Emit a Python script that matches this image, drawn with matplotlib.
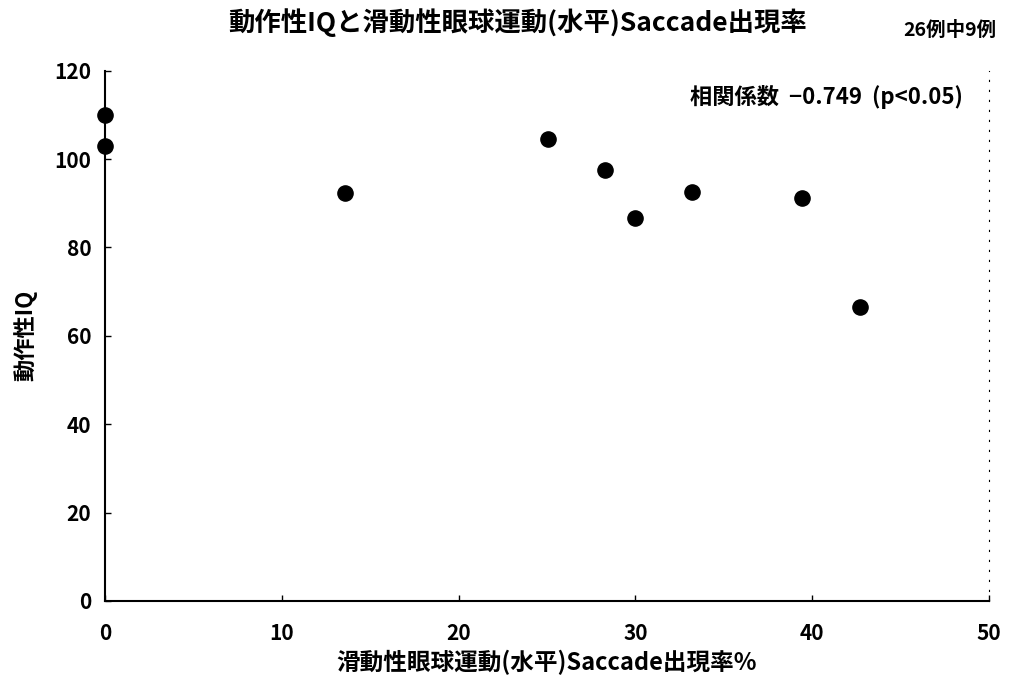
import matplotlib
matplotlib.use("Agg")
import matplotlib.pyplot as plt

plt.rcParams['font.family'] = ['Noto Sans CJK JP', 'DejaVu Sans']

saccade_rate = [0.0, 0.0, 13.55, 25.07, 28.27, 30.0, 33.2, 39.45, 42.7]
performance_iq = [110, 103, 92.4, 104.5, 97.5, 86.6, 92.6, 91.1, 66.6]
x_ticks = [0, 10, 20, 30, 40, 50]
y_ticks = [0, 20, 40, 60, 80, 100, 120]

title = "動作性IQと滑動性眼球運動(水平)Saccade出現率"
note = "26例中9例"
corr_text = "相関係数  −0.749  (p<0.05)"
xlabel = "滑動性眼球運動(水平)Saccade出現率%"
ylabel = "動作性IQ"

fig = plt.figure(figsize=(10.11, 6.86), dpi=100)
ax = fig.add_axes([0.104, 0.124, 0.874, 0.773])
ax.scatter(saccade_rate, performance_iq, s=120, color='black', zorder=3, clip_on=False)
ax.set_xlim(0, 50)
ax.set_ylim(0, 120)
ax.set_xticks(x_ticks)
ax.set_yticks(y_ticks)
ax.tick_params(direction='in', length=4, width=1, labelsize=15)
ax.tick_params(axis='x', pad=16)
ax.tick_params(axis='y', pad=10)
for lab in ax.get_xticklabels() + ax.get_yticklabels():
    lab.set_fontweight('bold')
ax.spines['top'].set_visible(False)
ax.spines['right'].set_linestyle((0, (1, 8)))
ax.spines['right'].set_linewidth(0.8)
ax.spines['left'].set_linewidth(1.5)
ax.spines['bottom'].set_linewidth(1.5)

ax.set_xlabel(xlabel, fontsize=17, fontweight='bold', labelpad=4)
ax.set_ylabel(ylabel, fontsize=16, fontweight='bold', labelpad=12)
fig.text(0.512, 0.967, title, ha='center', va='center', fontsize=19, fontweight='bold')
fig.text(0.94, 0.955, note, ha='center', va='center', fontsize=14, fontweight='bold')
ax.text(0.971, 0.951, corr_text, transform=ax.transAxes, ha='right', va='center',
        fontsize=16, fontweight='bold')

fig.savefig("out.png", dpi=100)
